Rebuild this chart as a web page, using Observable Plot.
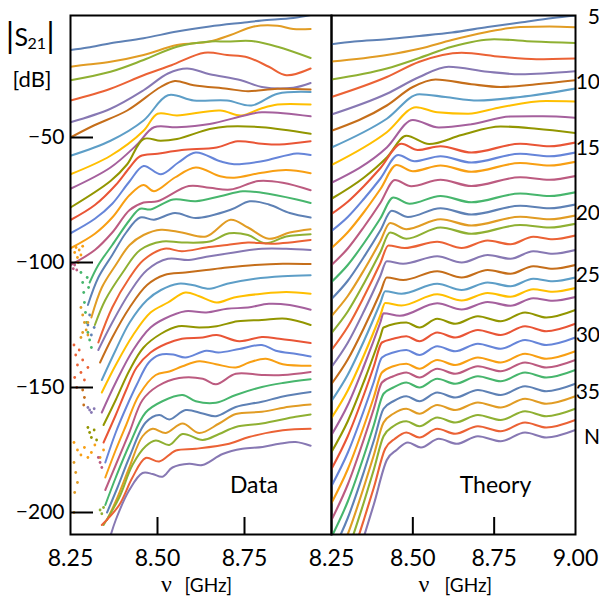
<!DOCTYPE html>
<html><head><meta charset="utf-8">
<script src="https://cdn.jsdelivr.net/npm/d3@7"></script>
<script src="https://cdn.jsdelivr.net/npm/@observablehq/plot@0.6"></script>
<style>
body{margin:0;background:#fff;}
#fig{position:relative;width:599px;height:604px;overflow:hidden;background:#fff;}
#fig svg{position:absolute;top:0;overflow:visible;}
</style></head><body>
<div id="fig"></div>
<script>
// ---------- categories ----------
const Ns = [5,6,7,8,9,10,11,12,13,14,15,16,17,18,19,20,21,22,23,24,25,26,27,28,29,30,31,32,33,34,35,36,37,38,39];
const palette = ["#5e81b5","#e19c24","#8fb032","#eb6235","#8778b3","#c56e1a","#5d9ec7","#ffbf00","#a5609d","#929600","#e95536","#6685d9","#f89f13","#bc5b80","#47b66d"];
const yTicks = [-50,-100,-150,-200];
const xTicksLeft = [8.25,8.5,8.75];
const xTicksRight = [8.25,8.5,8.75,9.0];
const innerXTicks = [8.5,8.75];
const rightLabels = ["5","10","15","20","25","30","35","N"];
const rightLabelDB = [-2,-27.9,-54.5,-80.5,-105.2,-129.2,-151.9,-169.9];

// ---------- measured curves: [nu (GHz), |S21| (dB)], N = 5 ... 39 ----------
const dataCurves = [
[[8.25,-15],[8.30,-14],[8.365,-12.3],[8.46,-10.3],[8.556,-7.6],[8.65,-5.6],[8.75,-4.0],[8.80,-3.2],[8.89,-2.2],[8.94,-1.0]],
[[8.25,-21.7],[8.30,-20.8],[8.365,-19.7],[8.46,-17],[8.556,-13],[8.65,-11.6],[8.71,-9],[8.777,-5.6],[8.845,-5.3],[8.89,-6.6],[8.94,-6.6]],
[[8.25,-27.1],[8.365,-23.7],[8.46,-19],[8.556,-13.7],[8.65,-11.6],[8.70,-11.6],[8.77,-11.4],[8.845,-13.7],[8.94,-18.2]],
[[8.25,-35.2],[8.365,-30.5],[8.46,-25.1],[8.54,-21.1],[8.635,-16.1],[8.70,-17],[8.76,-18],[8.82,-21.7],[8.87,-25.1],[8.94,-22.4]],
[[8.25,-43.9],[8.365,-38.5],[8.46,-31.1],[8.53,-24.4],[8.585,-22.4],[8.65,-24.7],[8.74,-27.1],[8.80,-29.8],[8.89,-30.1],[8.94,-28.2]],
[[8.25,-50],[8.317,-45.2],[8.413,-39.2],[8.509,-29.8],[8.55,-27.4],[8.604,-29.1],[8.70,-30.5],[8.76,-31.5],[8.845,-30.5],[8.94,-30.8]],
[[8.25,-57.3],[8.365,-51.3],[8.46,-43.2],[8.53,-33.1],[8.604,-35.2],[8.70,-35.2],[8.77,-37.2],[8.845,-32.5],[8.94,-31.8]],
[[8.25,-64.7],[8.365,-57.3],[8.46,-47.3],[8.50,-40.5],[8.556,-41.2],[8.68,-39.2],[8.74,-41.2],[8.796,-38.5],[8.845,-36.8],[8.94,-36.8]],
[[8.25,-70.5],[8.365,-62],[8.44,-53],[8.49,-45.9],[8.556,-45.9],[8.65,-44.6],[8.75,-41.2],[8.80,-39.9],[8.94,-41.5]],
[[8.25,-78],[8.365,-67.4],[8.413,-60.7],[8.46,-50.6],[8.509,-51.3],[8.556,-50.6],[8.65,-46.6],[8.70,-45.6],[8.80,-45.9],[8.94,-48.5]],
[[8.25,-83],[8.32,-77],[8.38,-69],[8.42,-62],[8.45,-57.5],[8.50,-56.5],[8.57,-55],[8.67,-54],[8.73,-51.5],[8.80,-52.5],[8.85,-52.8],[8.94,-51.5]],
[[8.25,-88.3],[8.32,-82.5],[8.37,-76.5],[8.42,-67.5],[8.46,-61.4],[8.51,-64.7],[8.56,-60],[8.61,-56],[8.68,-59.5],[8.72,-60.7],[8.80,-59.5],[8.90,-56.4],[8.94,-57]],
[[8.25,-94.3],[8.32,-88.5],[8.37,-82],[8.42,-73],[8.46,-69],[8.49,-71.5],[8.55,-66],[8.61,-62],[8.68,-65.5],[8.72,-66.1],[8.80,-64.1],[8.87,-63],[8.94,-64.3]],
[[8.25,-101],[8.32,-95],[8.37,-88],[8.42,-79],[8.46,-76],[8.50,-75.5],[8.59,-69.4],[8.65,-70.1],[8.71,-70.8],[8.79,-67.4],[8.86,-68.1],[8.94,-71.1]],
[[8.305,-108],[8.33,-101],[8.37,-93],[8.42,-83],[8.45,-78.5],[8.48,-78.8],[8.545,-74.8],[8.61,-75.5],[8.68,-73.5],[8.745,-71.5],[8.80,-72.1],[8.90,-74.8],[8.94,-76.2]],
[[8.30,-117],[8.33,-106],[8.37,-97],[8.41,-88],[8.45,-82],[8.49,-82.9],[8.55,-80.2],[8.61,-82.2],[8.71,-78.9],[8.765,-75.5],[8.82,-76.8],[8.88,-80.2],[8.94,-82]],
[[8.31,-122],[8.34,-110],[8.38,-101],[8.42,-93],[8.46,-89],[8.51,-86.9],[8.57,-88],[8.64,-89.6],[8.71,-82.9],[8.76,-86],[8.82,-90.5],[8.88,-88],[8.94,-86.7]],
[[8.32,-125],[8.35,-115],[8.40,-104],[8.45,-95],[8.514,-91.6],[8.57,-92],[8.65,-91.6],[8.706,-88.3],[8.76,-89],[8.81,-92.3],[8.87,-89.6],[8.94,-88.7]],
[[8.33,-132],[8.37,-118],[8.42,-106],[8.46,-99],[8.52,-94.5],[8.57,-95.5],[8.64,-94],[8.70,-93],[8.76,-92],[8.83,-92.5],[8.94,-91]],
[[8.33,-135],[8.37,-124],[8.42,-112],[8.47,-103],[8.53,-98.5],[8.59,-99],[8.65,-97.5],[8.72,-96],[8.80,-94.5],[8.87,-94.5],[8.94,-95]],
[[8.335,-140],[8.37,-130],[8.42,-118],[8.47,-109],[8.52,-105],[8.58,-104],[8.64,-103],[8.70,-102],[8.78,-101],[8.86,-100.5],[8.94,-100.6]],
[[8.34,-147],[8.38,-135],[8.42,-124],[8.47,-115],[8.51,-111],[8.56,-108.5],[8.60,-109],[8.65,-110.5],[8.70,-108.5],[8.78,-106.5],[8.86,-105.5],[8.94,-105.1]],
[[8.34,-152],[8.38,-141],[8.43,-129],[8.48,-120],[8.53,-116],[8.58,-112],[8.62,-113.5],[8.67,-116],[8.72,-114],[8.80,-112.5],[8.87,-111.8],[8.94,-112.5]],
[[8.34,-160],[8.38,-148],[8.43,-135],[8.48,-126],[8.52,-122.5],[8.58,-119.5],[8.64,-120],[8.70,-118.5],[8.76,-118],[8.82,-116.5],[8.88,-117],[8.94,-118.9]],
[[8.345,-165],[8.38,-155],[8.42,-143],[8.46,-134],[8.51,-128.5],[8.56,-125.5],[8.62,-126],[8.67,-125.5],[8.73,-123.5],[8.80,-123],[8.87,-122.5],[8.94,-125]],
[[8.345,-172],[8.38,-161],[8.41,-151],[8.44,-142],[8.48,-136],[8.525,-132.5],[8.57,-130.5],[8.63,-130],[8.67,-129],[8.735,-131.5],[8.80,-129.8],[8.85,-130.5],[8.94,-132.2]],
[[8.35,-180],[8.38,-168],[8.41,-158],[8.44,-149],[8.475,-140],[8.505,-137],[8.545,-136.8],[8.58,-138],[8.64,-135.3],[8.675,-136],[8.735,-134.6],[8.80,-133],[8.84,-135.3],[8.90,-136.6],[8.94,-137.6]],
[[8.35,-186],[8.38,-175],[8.41,-165],[8.447,-153],[8.495,-145],[8.534,-143.6],[8.572,-141.5],[8.62,-139.5],[8.668,-140.7],[8.725,-142],[8.763,-140],[8.811,-138.5],[8.86,-140.7],[8.94,-141.3]],
[[8.35,-191],[8.38,-181],[8.419,-168],[8.457,-155],[8.50,-149.5],[8.562,-146.2],[8.63,-146.5],[8.668,-148.7],[8.725,-144.5],[8.80,-145],[8.86,-145],[8.94,-143.8]],
[[8.35,-197],[8.38,-186],[8.419,-173],[8.466,-160],[8.514,-155.5],[8.572,-153],[8.61,-155.5],[8.668,-156.1],[8.725,-153],[8.80,-149.8],[8.86,-148.2],[8.94,-146.7]],
[[8.355,-200],[8.385,-190],[8.419,-178],[8.466,-164],[8.505,-161],[8.534,-162.8],[8.581,-159],[8.63,-160.4],[8.668,-161.5],[8.725,-157.8],[8.80,-155.7],[8.86,-153.6],[8.94,-151.8]],
[[8.355,-203],[8.385,-194],[8.419,-182],[8.457,-169.5],[8.486,-166.5],[8.524,-168.2],[8.572,-164.4],[8.62,-168.2],[8.677,-164.4],[8.725,-160.6],[8.80,-159.7],[8.878,-157.7],[8.94,-156.8]],
[[8.345,-205],[8.39,-194],[8.428,-181],[8.466,-173.5],[8.495,-171.2],[8.534,-173],[8.572,-168.6],[8.63,-171],[8.677,-168.6],[8.725,-165.8],[8.80,-164.4],[8.897,-161.7],[8.94,-160.8]],
[[8.34,-205],[8.39,-197],[8.428,-186],[8.466,-178.2],[8.505,-179.6],[8.553,-175.2],[8.61,-174.5],[8.706,-172.5],[8.763,-169.8],[8.86,-167.1],[8.94,-166.5]],
[[8.361,-211.2],[8.38,-203],[8.419,-191],[8.457,-184.2],[8.486,-184.6],[8.514,-185.7],[8.543,-182],[8.591,-180.5],[8.629,-181],[8.687,-176.6],[8.744,-174.5],[8.802,-173.8],[8.85,-172.5],[8.897,-171.8],[8.94,-173.3]]
];

// scattered low-signal points of the measured curves: [nu, dB, N]
const noiseDots = [
[8.262,-96,17],[8.266,-94,17],[8.27,-98,17],[8.275,-95,17],[8.28,-97,17],[8.285,-93.5,17],[8.272,-100,17],
[8.255,-100.5,18],[8.258,-102.5,18],[8.262,-101,18],[8.268,-103,18],
[8.28,-104,19],[8.285,-108,19],[8.288,-112,19],[8.29,-116,19],[8.293,-120,19],[8.296,-124,19],[8.30,-128,19],[8.305,-131,19],[8.31,-134,19],[8.302,-110,19],[8.298,-106,19],
[8.30,-125,20],[8.305,-121,20],[8.31,-129,20],[8.318,-126,20],
[8.28,-118,21],[8.285,-121,21],[8.29,-124,21],[8.295,-127,21],[8.30,-129,21],[8.285,-128,21],[8.28,-130,21],[8.30,-124,21],
[8.26,-133,23],[8.265,-137,23],[8.27,-141,23],[8.275,-135,23],[8.28,-144,23],[8.285,-139,23],[8.29,-147,23],[8.262,-146,23],[8.268,-150,23],[8.30,-142,23],
[8.285,-151,25],[8.29,-154,25],[8.288,-157,25],
[8.30,-158,24],[8.305,-159,24],[8.31,-160,24],[8.318,-158.5,24],
[8.30,-166,29],[8.305,-168,29],[8.31,-170,29],[8.318,-167,29],[8.325,-171,29],
[8.26,-172,32],[8.27,-175,32],[8.28,-177,32],[8.29,-174,32],[8.30,-178,32],[8.31,-176,32],[8.32,-173,32],[8.335,-178,32],[8.345,-175,32],
[8.26,-180,36],[8.265,-184,36],[8.27,-188,36],[8.262,-192,36],[8.26,-200,36],
[8.33,-178,33],[8.335,-180,33],[8.34,-182,33],
[8.335,-199,37],[8.34,-200.5,37],[8.345,-198,37]
];

// ---------- theory curves: [nu (GHz), |S21| (dB)], N = 5 ... 39 ----------
const theoryCurves = [
[[8.25,-12.7],[8.32,-11.6],[8.42,-10.7],[8.52,-9.4],[8.62,-8.0],[8.73,-5.8],[8.83,-4.0],[8.93,-2.2],[9.0,-1.2]],
[[8.25,-19.6],[8.42,-17.0],[8.52,-14.5],[8.62,-11.0],[8.72,-8.0],[8.83,-5.8],[8.92,-5.6],[9.0,-5.9]],
[[8.25,-26.8],[8.42,-22.4],[8.52,-18.2],[8.62,-13.7],[8.75,-10.7],[8.87,-11.6],[9.0,-12.2]],
[[8.25,-33.8],[8.42,-25.8],[8.52,-19.7],[8.65,-16.1],[8.77,-17.7],[8.88,-18.7],[9.0,-18.4]],
[[8.25,-40.8],[8.42,-32.5],[8.52,-25.8],[8.61,-21.7],[8.73,-23.7],[8.83,-24.7],[9.0,-23.5]],
[[8.25,-47.3],[8.42,-37.2],[8.50,-29.8],[8.57,-26.8],[8.68,-28.7],[8.77,-29.8],[8.88,-28.7],[9.0,-27.1]],
[[8.25,-54],[8.42,-42.5],[8.52,-32.7],[8.60,-33.8],[8.70,-35.2],[8.83,-33.8],[9.0,-30.4]],
[[8.25,-61],[8.42,-47.9],[8.51,-37.9],[8.575,-39.9],[8.67,-40.5],[8.77,-37.9],[8.91,-35.4],[9.0,-35.6]],
[[8.25,-68.1],[8.42,-54],[8.50,-43],[8.58,-46],[8.68,-44.7],[8.80,-41.6],[8.90,-41.5],[9.0,-42.1]],
[[8.25,-74.5],[8.35,-66],[8.42,-58],[8.48,-49.3],[8.55,-52.6],[8.65,-49],[8.77,-45.6],[8.88,-46.5],[9.0,-48.2]],
[[8.25,-80.6],[8.30,-75.7],[8.35,-69.4],[8.40,-62.3],[8.465,-52.5],[8.515,-55],[8.585,-53.5],[8.68,-56],[8.83,-52.5],[8.92,-53.5],[9.0,-52]],
[[8.25,-87.4],[8.30,-81.8],[8.35,-74.5],[8.40,-66.5],[8.455,-57],[8.505,-59.5],[8.585,-57.5],[8.68,-60],[8.83,-56.5],[8.92,-57.5],[9.0,-56]],
[[8.25,-94.2],[8.30,-87.9],[8.35,-79.8],[8.40,-70.7],[8.45,-61],[8.50,-63.5],[8.585,-61.2],[8.68,-63.7],[8.83,-60.2],[8.92,-61.2],[9.0,-59.7]],
[[8.25,-101],[8.30,-94.4],[8.35,-85.7],[8.40,-76.2],[8.445,-67],[8.495,-69.5],[8.585,-66.9],[8.68,-69.4],[8.83,-65.9],[8.92,-66.9],[9.0,-65.4]],
[[8.25,-107.8],[8.30,-101],[8.35,-92.2],[8.40,-82.4],[8.44,-74],[8.49,-76.5],[8.585,-73.4],[8.68,-75.9],[8.83,-72.4],[8.92,-73.4],[9.0,-71.9]],
[[8.25,-114.6],[8.30,-107.3],[8.35,-97.7],[8.40,-87.2],[8.435,-79.3],[8.485,-81.8],[8.585,-78.3],[8.68,-80.8],[8.83,-77.3],[8.92,-78.3],[9.0,-76.8]],
[[8.25,-121.4],[8.30,-113.4],[8.35,-103],[8.40,-91.5],[8.43,-84.2],[8.48,-86.7],[8.585,-82.7],[8.68,-85.2],[8.83,-81.7],[8.92,-82.7],[9.0,-81.2]],
[[8.25,-128.2],[8.30,-119.6],[8.35,-108.3],[8.40,-95.9],[8.43,-88],[8.48,-90.5],[8.585,-86],[8.68,-88.5],[8.83,-85],[8.92,-86],[9.0,-84.5]],
[[8.25,-135],[8.30,-125.7],[8.35,-113.6],[8.40,-100.3],[8.425,-93.2],[8.475,-94.2],[8.575,-91.7],[8.65,-94.2],[8.73,-91.2],[8.80,-92.7],[8.87,-89.7],[8.93,-90.7],[9.0,-89.2]],
[[8.25,-141.8],[8.30,-132.1],[8.35,-119.4],[8.40,-105.4],[8.42,-99.5],[8.47,-100.5],[8.575,-97.5],[8.65,-100],[8.73,-97],[8.80,-98.5],[8.87,-95.5],[8.93,-96.5],[9.0,-95]],
[[8.25,-148.6],[8.30,-138.8],[8.35,-126.1],[8.40,-112],[8.42,-106],[8.47,-107],[8.575,-103.5],[8.65,-106],[8.73,-103],[8.80,-104.5],[8.87,-101.5],[8.93,-102.5],[9.0,-101]],
[[8.25,-155.4],[8.30,-144.9],[8.35,-131.3],[8.40,-116.2],[8.415,-111.5],[8.465,-112.5],[8.575,-108.5],[8.65,-111],[8.73,-108],[8.80,-109.5],[8.87,-106.5],[8.93,-107.5],[9.0,-106]],
[[8.25,-162.2],[8.30,-151.2],[8.35,-137],[8.40,-121.2],[8.415,-116.2],[8.465,-117.2],[8.575,-112.7],[8.65,-115.2],[8.73,-112.2],[8.80,-113.7],[8.87,-110.7],[8.93,-111.7],[9.0,-110.2]],
[[8.25,-169],[8.30,-157],[8.35,-141.3],[8.40,-124],[8.41,-120.3],[8.46,-121.3],[8.575,-116.3],[8.65,-118.8],[8.73,-115.8],[8.80,-117.3],[8.87,-114.3],[8.93,-115.3],[9.0,-113.8]],
[[8.25,-175.8],[8.30,-163.5],[8.35,-147.5],[8.40,-129.7],[8.41,-126],[8.48,-124],[8.52,-126],[8.575,-122.5],[8.63,-124.5],[8.70,-121.5],[8.77,-123.5],[8.845,-120],[8.91,-122],[9.0,-119]],
[[8.25,-182.6],[8.30,-169.5],[8.35,-152.7],[8.38,-141.6],[8.405,-132],[8.44,-130.5],[8.48,-129.5],[8.52,-131.5],[8.575,-128],[8.63,-130],[8.70,-127],[8.77,-129],[8.845,-125.5],[8.91,-127.5],[9.0,-124.5]],
[[8.25,-189.4],[8.30,-176.1],[8.35,-159],[8.38,-147.8],[8.405,-138],[8.44,-136],[8.48,-135],[8.52,-137],[8.575,-133.5],[8.63,-135.5],[8.70,-132.5],[8.77,-134.5],[8.845,-131],[8.91,-133],[9.0,-130]],
[[8.25,-196.2],[8.30,-182.7],[8.35,-165.3],[8.38,-153.9],[8.405,-144],[8.44,-141.5],[8.48,-140.5],[8.52,-142.5],[8.575,-139],[8.63,-141],[8.70,-138],[8.77,-140],[8.845,-136.5],[8.91,-138.5],[9.0,-135.5]],
[[8.25,-203],[8.30,-188.8],[8.35,-170.5],[8.38,-158.5],[8.405,-148],[8.44,-145.5],[8.48,-144],[8.52,-146],[8.575,-142.5],[8.63,-144.5],[8.70,-141.5],[8.77,-143.5],[8.845,-140],[8.91,-142],[9.0,-139]],
[[8.25,-209.8],[8.30,-195.6],[8.35,-177.2],[8.38,-165.1],[8.41,-152.5],[8.44,-150],[8.48,-148],[8.52,-150],[8.575,-146.5],[8.63,-148.5],[8.70,-145.5],[8.77,-147.5],[8.845,-144],[8.91,-146],[9.0,-143]],
[[8.25,-216.6],[8.30,-202.2],[8.35,-183.5],[8.38,-171.3],[8.41,-158.5],[8.44,-155.5],[8.48,-153.5],[8.52,-155.5],[8.575,-152],[8.63,-154],[8.70,-151],[8.77,-153],[8.845,-149.5],[8.91,-151.5],[9.0,-148.5]],
[[8.25,-223.4],[8.30,-208.7],[8.35,-189.6],[8.38,-177.1],[8.41,-164],[8.44,-160.5],[8.48,-158.5],[8.52,-160.5],[8.575,-157],[8.63,-159],[8.70,-156],[8.77,-158],[8.845,-154.5],[8.91,-156.5],[9.0,-153.5]],
[[8.25,-230.2],[8.30,-215.2],[8.35,-195.7],[8.38,-182.9],[8.41,-169.5],[8.44,-165.5],[8.48,-163.5],[8.52,-165.5],[8.575,-162],[8.63,-164],[8.70,-161],[8.77,-163],[8.845,-159.5],[8.91,-161.5],[9.0,-158.5]],
[[8.25,-237],[8.30,-222.1],[8.35,-202.7],[8.38,-190.1],[8.415,-174.5],[8.445,-170.5],[8.48,-168],[8.52,-170],[8.575,-166.5],[8.63,-168.5],[8.70,-165.5],[8.77,-167.5],[8.845,-164],[8.91,-166],[9.0,-163]],
[[8.25,-243.8],[8.30,-228.9],[8.35,-209.5],[8.38,-196.8],[8.42,-179],[8.45,-175],[8.485,-172],[8.525,-174],[8.58,-170.5],[8.635,-172.5],[8.70,-169.5],[8.77,-171.5],[8.845,-168],[8.91,-170],[9.0,-167]]
];

// ---------- tables for Plot ----------
const toRows = curves => curves.flatMap((pts, i) => pts.map(([nu, db]) => ({nu, db, N: Ns[i]})));
const dataRows = toRows(dataCurves);
const theoryRows = toRows(theoryCurves);
const noiseRows = noiseDots.map(([nu, db, N]) => ({nu, db, N}));
const colorScale = {type: "ordinal", domain: Ns, range: Ns.map((n, i) => palette[i % palette.length])};

const FONT = "Lato, 'Open Sans', sans-serif";
const SERIF = "'Liberation Serif', 'DejaVu Serif', serif";
const H = 604, MT = 15, MB = 70;

const common = {
  height: H, marginTop: MT, marginBottom: MB,
  x: {domain: [8.25, 9.0]},
  y: {domain: [-208.8, -1.2], axis: null},
  color: colorScale,
  style: {fontFamily: FONT, fontSize: "21px", background: "transparent", overflow: "visible", color: "black"}
};
const label = (t, dx, dy, size, extra = {}) =>
  Plot.text([t], {frameAnchor: "top-left", lineAnchor: "middle", dx, dy, fontSize: size, textAnchor: "start", ...extra});

const left = Plot.plot({
  ...common,
  width: 334, marginLeft: 70, marginRight: 3,
  marks: [
    Plot.line(dataRows, {x: "nu", y: "db", z: "N", stroke: "N", strokeWidth: 2, curve: "catmull-rom", clip: true}),
    Plot.dot(noiseRows, {x: "nu", y: "db", fill: "N", r: 1.4, clip: true}),
    Plot.tickY(yTicks, {y: d => d, stroke: "black", strokeWidth: 2, insetRight: 238}),
    Plot.tickX(innerXTicks, {x: d => d, stroke: "black", strokeWidth: 2, insetTop: 502}),
    Plot.axisY({ticks: yTicks, tickSize: 0, tickPadding: 6, label: null, fontSize: 21}),
    Plot.axisX({ticks: xTicksLeft, tickSize: 0, tickPadding: 15, tickFormat: d3.format(".2f"), label: null, fontSize: 23}),
    label("Data", 183.5, 470.6, 23, {textAnchor: "middle"}),
    label("|", -60.5, 21.5, 34, {textAnchor: "middle"}),
    label("S", -56, 22.5, 25),
    label("21", -43, 27.9, 16),
    label("|", -20, 21.5, 34, {textAnchor: "middle"}),
    label("[dB]", -38.5, 64.4, 22, {textAnchor: "middle"}),
    label("ν", 96, 569.3, 24, {fontFamily: SERIF, textAnchor: "middle"}),
    label("[GHz]", 114, 570.9, 19),
    Plot.frame({stroke: "black", strokeWidth: 2})
  ]
});

const right = Plot.plot({
  ...common,
  width: 270, marginLeft: 2, marginRight: 24,
  marks: [
    Plot.line(theoryRows, {x: "nu", y: "db", z: "N", stroke: "N", strokeWidth: 2.1, curve: "monotone-x", clip: true}),
    Plot.tickX(innerXTicks, {x: d => d, stroke: "black", strokeWidth: 2, insetTop: 502}),
    Plot.axisX({ticks: xTicksRight, tickSize: 0, tickPadding: 15, tickFormat: d3.format(".2f"), label: null, fontSize: 23}),
    Plot.text(rightLabels, {frameAnchor: "right", y: (d, i) => rightLabelDB[i], text: d => d, dx: 24.5, textAnchor: "end", fontSize: 21}),
    label("Theory", 164, 470.6, 23, {textAnchor: "middle"}),
    label("ν", 92.5, 569.3, 24, {fontFamily: SERIF, textAnchor: "middle"}),
    label("[GHz]", 113, 570.9, 19),
    Plot.frame({stroke: "black", strokeWidth: 2})
  ]
});

const fig = document.getElementById("fig");
left.style.left = "0px";
right.style.left = "329px";
fig.appendChild(left);
fig.appendChild(right);
</script>
</body></html>
